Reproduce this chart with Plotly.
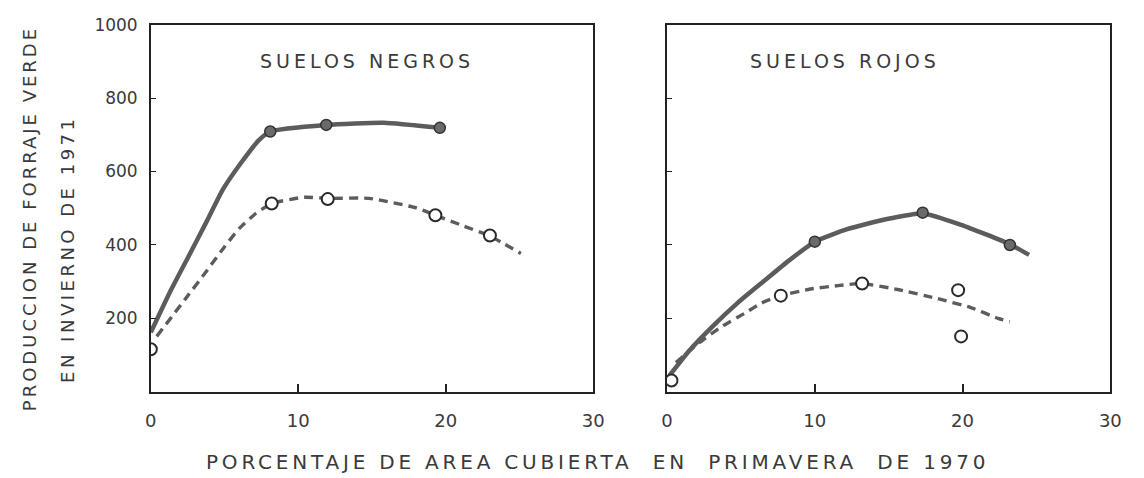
import plotly.graph_objects as go

# ---------------- data ----------------
# Suelos negros (left panel)
neg_solid_pts_x = [8.1, 11.9, 19.6]
neg_solid_pts_y = [709, 727, 719]
neg_open_pts_x = [0.0, 8.2, 12.0, 19.3, 23.0]
neg_open_pts_y = [116, 513, 525, 481, 426]
neg_solid_curve_x = [0.0, 1.3, 2.6, 3.8, 4.9, 6.2, 7.3, 8.1, 11.9, 15.8, 19.6]
neg_solid_curve_y = [162, 272, 372, 465, 552, 628, 684, 709, 727, 733, 719]
neg_dash_curve_x = [0.4, 2.4, 3.8, 5.0, 6.0, 7.1, 8.2, 10.4, 12.0, 14.8, 18.0, 19.3, 21.2, 23.0, 25.1]
neg_dash_curve_y = [151, 256, 330, 395, 445, 485, 513, 530, 527, 527, 501, 481, 452, 424, 377]

# Suelos rojos (right panel)
roj_solid_pts_x = [10.0, 17.3, 23.2]
roj_solid_pts_y = [409, 488, 400]
roj_open_pts_x = [0.3, 7.7, 13.2, 19.7, 19.9]
roj_open_pts_y = [31, 262, 295, 277, 151]
roj_solid_curve_x = [0.16, 1.5, 3.0, 4.8, 6.6, 8.2, 10.0, 12.2, 14.8, 17.3, 19.9, 23.2, 24.5]
roj_solid_curve_y = [44, 112, 175, 243, 303, 356, 409, 443, 470, 486, 455, 402, 373]
roj_dash_curve_x = [0.6, 2.15, 3.7, 5.3, 6.4, 7.7, 9.7, 11.7, 13.2, 15.7, 18.2, 20.6, 22.4, 23.2]
roj_dash_curve_y = [80, 133, 178, 215, 242, 262, 280, 290, 295, 278, 255, 229, 200, 191]

x_ticks = [0, 10, 20, 30]
x_tick_text = ["0", "10", "20", "30"]
y_ticks = [200, 400, 600, 800, 1000]
y_tick_text = ["200", "400", "600", "800", "1000"]

panel_titles = ["SUELOS NEGROS", "SUELOS ROJOS"]
y_title_1 = "PRODUCCION DE FORRAJE VERDE"
y_title_2 = "EN INVIERNO DE 1971"
x_title = "PORCENTAJE DE AREA CUBIERTA  EN  PRIMAVERA  DE 1970"

# ---------------- style ----------------
FONT = "DejaVu Sans"
TXT = "#3a3a3a"
LINE = "#5c5c5c"
FRAME = "#222222"


def spaced(text, px):
    return '<span style="letter-spacing:%spx">%s</span>' % (px, text)


fig = go.Figure()


def add_panel(xa, ya, sc_x, sc_y, dc_x, dc_y, sp_x, sp_y, op_x, op_y):
    fig.add_trace(go.Scatter(x=sc_x, y=sc_y, mode="lines", xaxis=xa, yaxis=ya,
                             line=dict(color=LINE, width=4.5, shape="spline", smoothing=0.5),
                             showlegend=False, hoverinfo="skip"))
    fig.add_trace(go.Scatter(x=dc_x, y=dc_y, mode="lines", xaxis=xa, yaxis=ya,
                             line=dict(color=LINE, width=3.4, shape="spline", smoothing=0.5,
                                       dash="9px,6px"),
                             showlegend=False, hoverinfo="skip"))
    fig.add_trace(go.Scatter(x=sp_x, y=sp_y, mode="markers", xaxis=xa, yaxis=ya,
                             marker=dict(size=11, color="#6a6a6a",
                                         line=dict(color="#333333", width=1.5)),
                             showlegend=False))
    fig.add_trace(go.Scatter(x=op_x, y=op_y, mode="markers", xaxis=xa, yaxis=ya,
                             marker=dict(size=12, color="white", symbol="circle",
                                         line=dict(color="#2a2a2a", width=2)),
                             showlegend=False))


add_panel("x", "y", neg_solid_curve_x, neg_solid_curve_y, neg_dash_curve_x, neg_dash_curve_y,
          neg_solid_pts_x, neg_solid_pts_y, neg_open_pts_x, neg_open_pts_y)
add_panel("x2", "y2", roj_solid_curve_x, roj_solid_curve_y, roj_dash_curve_x, roj_dash_curve_y,
          roj_solid_pts_x, roj_solid_pts_y, roj_open_pts_x, roj_open_pts_y)

W, H = 1144, 478
ydom = [(H - 390) / H, (H - 15) / H]

xcommon = dict(range=[0, 30], tickvals=x_ticks, ticktext=x_tick_text, showgrid=False,
               zeroline=False, showline=True, linecolor=FRAME, linewidth=1.5, mirror=True,
               ticks="inside", ticklen=8, tickcolor=FRAME, tickwidth=1.5,
               tickfont=dict(family=FONT, size=18, color=TXT), ticklabelstandoff=12)
ycommon = dict(range=[0, 1000], tickvals=y_ticks, ticktext=y_tick_text, showgrid=False,
               zeroline=False, showline=True, linecolor=FRAME, linewidth=1.5, mirror=True,
               ticks="inside", ticklen=5, tickcolor=FRAME, tickwidth=1,
               tickfont=dict(family=FONT, size=17, color=TXT), ticklabelstandoff=8,
               domain=ydom)

fig.update_layout(
    width=W, height=H,
    margin=dict(l=0, r=0, t=0, b=0),
    paper_bgcolor="white", plot_bgcolor="white",
    xaxis=dict(domain=[147 / W, 596 / W], anchor="y", **xcommon),
    yaxis=dict(anchor="x", **ycommon),
    xaxis2=dict(domain=[671 / W, 1121 / W], anchor="y2", **xcommon),
    yaxis2=dict(anchor="x2", showticklabels=False, **ycommon),
    annotations=[
        dict(text=spaced(panel_titles[0], 4), x=366 / W, y=(H - 52) / H, xref="paper", yref="paper",
             showarrow=False, xanchor="center", yanchor="middle",
             font=dict(family=FONT, size=19, color=TXT)),
        dict(text=spaced(panel_titles[1], 4), x=852 / W, y=(H - 52) / H, xref="paper", yref="paper",
             showarrow=False, xanchor="center", yanchor="middle",
             font=dict(family=FONT, size=19, color=TXT)),
        dict(text=spaced(y_title_1, 3), x=24 / W, y=(H - 213) / H, xref="paper", yref="paper",
             textangle=-90, showarrow=False, xanchor="center", yanchor="middle",
             font=dict(family=FONT, size=18, color=TXT)),
        dict(text=spaced(y_title_2, 3.5), x=63 / W, y=(H - 245) / H, xref="paper", yref="paper",
             textangle=-90, showarrow=False, xanchor="center", yanchor="middle",
             font=dict(family=FONT, size=18, color=TXT)),
        dict(text=spaced(x_title, 3.8), x=600 / W, y=(H - 462) / H, xref="paper", yref="paper",
             showarrow=False, xanchor="center", yanchor="middle",
             font=dict(family=FONT, size=20, color=TXT)),
    ],
)

fig.write_html("out.html")
